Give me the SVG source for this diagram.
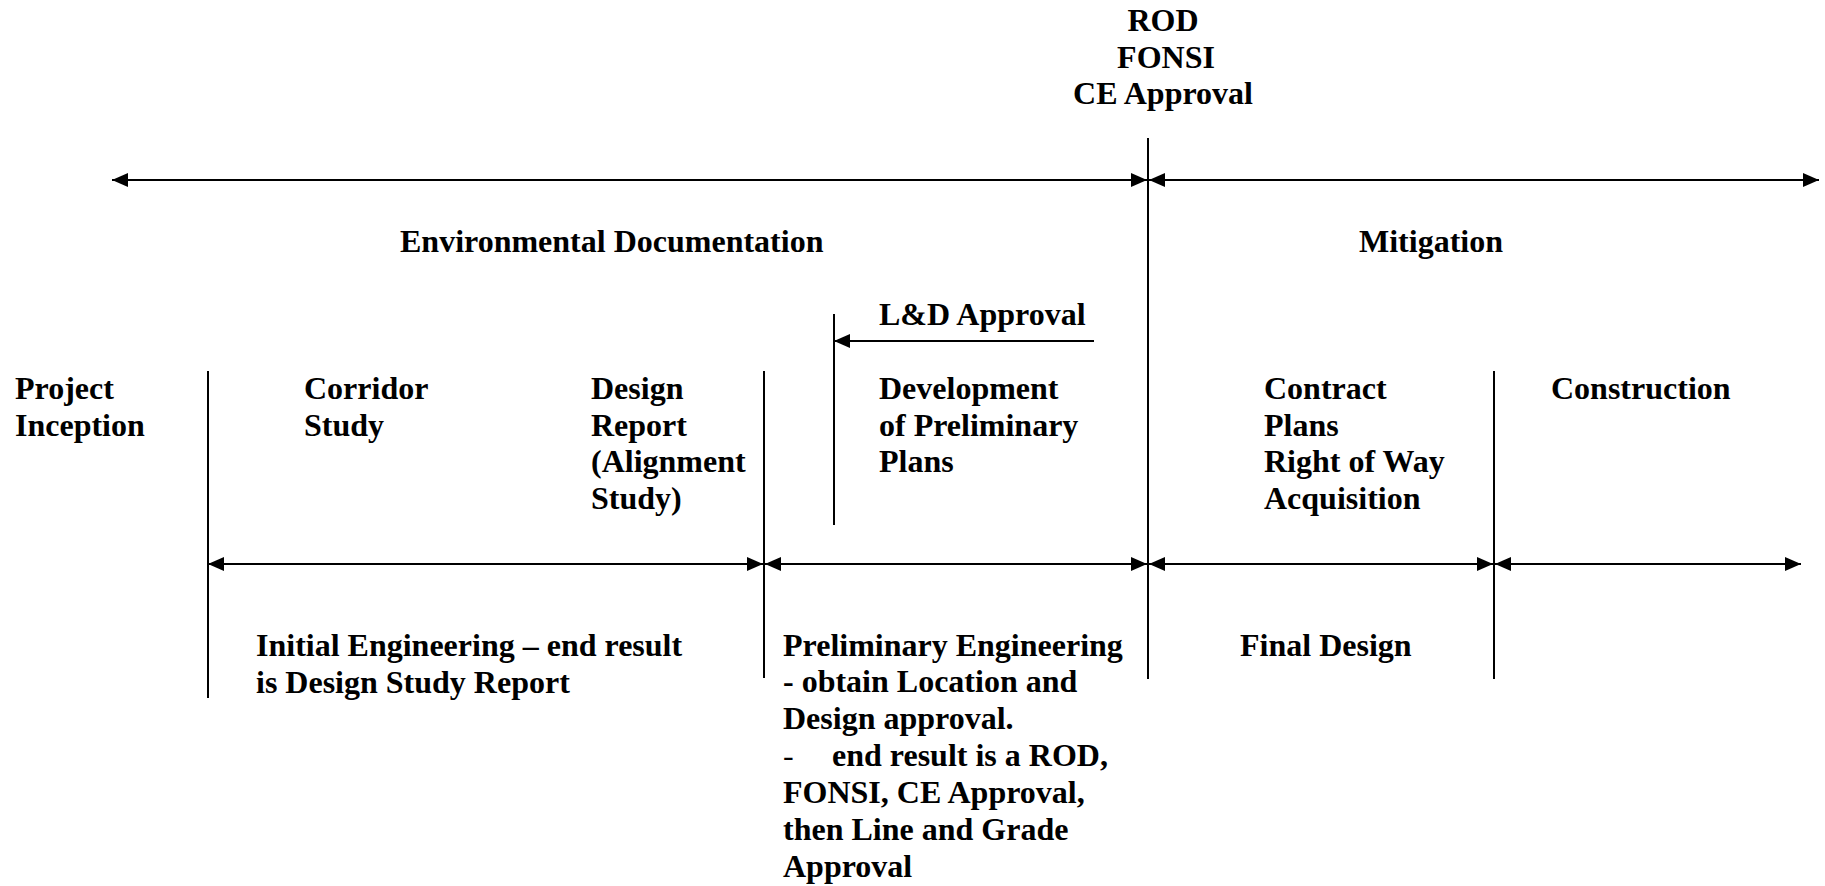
<svg xmlns="http://www.w3.org/2000/svg" width="1825" height="886" viewBox="0 0 1825 886">
<style>
text{font-family:"Liberation Serif","Times New Roman",serif;font-weight:bold;font-size:32px;fill:#000}
.m{text-anchor:middle}
.thin{font-weight:normal}
line{stroke:#000;stroke-width:2}
.a{marker-start:url(#ah);marker-end:url(#ah)}
</style>
<defs>
<marker id="ah" viewBox="0 0 16 14" refX="16" refY="7" markerWidth="16" markerHeight="14" markerUnits="userSpaceOnUse" orient="auto-start-reverse">
<path d="M0,0 L16,7 L0,14 Z" fill="#000"/>
</marker>
</defs>
<rect width="1825" height="886" fill="#fff"/>
<g id="connectors">
<line x1="208" y1="371" x2="208" y2="698"/>
<line x1="764" y1="371" x2="764" y2="678"/>
<line x1="1148" y1="138" x2="1148" y2="679"/>
<line x1="1494" y1="371" x2="1494" y2="679"/>
<line x1="834" y1="314" x2="834" y2="525"/>
<line class="a" x1="112" y1="180" x2="1147" y2="180"/>
<line class="a" x1="1149" y1="180" x2="1819" y2="180"/>
<line x1="1094" y1="341" x2="834" y2="341" style="marker-end:url(#ah)"/>
<line class="a" x1="208" y1="564" x2="763" y2="564"/>
<line class="a" x1="765" y1="564" x2="1147" y2="564"/>
<line class="a" x1="1149" y1="564" x2="1493" y2="564"/>
<line x1="1495" y1="564" x2="1801" y2="564" style="marker-start:url(#ah);marker-end:url(#ah)"/>
</g>
<g id="rod"><text class="m" x="1163" y="31">ROD</text><text class="m" x="1166" y="68">FONSI</text><text class="m" x="1163" y="104">CE Approval</text></g>
<g id="env"><text x="400" y="252">Environmental Documentation</text></g>
<g id="mitigation"><text x="1359" y="252">Mitigation</text></g>
<g id="ld"><text x="879" y="325">L&amp;D Approval</text></g>
<g id="inception"><text x="15" y="399">Project</text><text x="15" y="435.5">Inception</text></g>
<g id="corridor"><text x="304" y="399">Corridor</text><text x="304" y="435.5">Study</text></g>
<g id="design-report"><text x="591" y="399">Design</text><text x="591" y="435.5">Report</text><text x="591" y="472">(Alignment</text><text x="591" y="508.5">Study)</text></g>
<g id="dev-plans"><text x="879" y="399">Development</text><text x="879" y="435.5">of Preliminary</text><text x="879" y="472">Plans</text></g>
<g id="contract"><text x="1264" y="399">Contract</text><text x="1264" y="435.5">Plans</text><text x="1264" y="472">Right of Way</text><text x="1264" y="508.5">Acquisition</text></g>
<g id="construction"><text x="1551" y="399">Construction</text></g>
<g id="initial"><text x="256" y="655.5">Initial Engineering – end result</text><text x="256" y="692.5">is Design Study Report</text></g>
<g id="prelim"><text x="783" y="655.5">Preliminary Engineering</text><text x="783" y="692.4">- obtain Location and</text><text x="783" y="729.3">Design approval.</text><text x="783" y="766.2"><tspan class="thin">-</tspan><tspan x="832">end result is a ROD,</tspan></text><text x="783" y="803.1">FONSI, CE Approval,</text><text x="783" y="840">then Line and Grade</text><text x="783" y="876.9">Approval</text></g>
<g id="final"><text x="1240" y="655.5">Final Design</text></g>
</svg>
